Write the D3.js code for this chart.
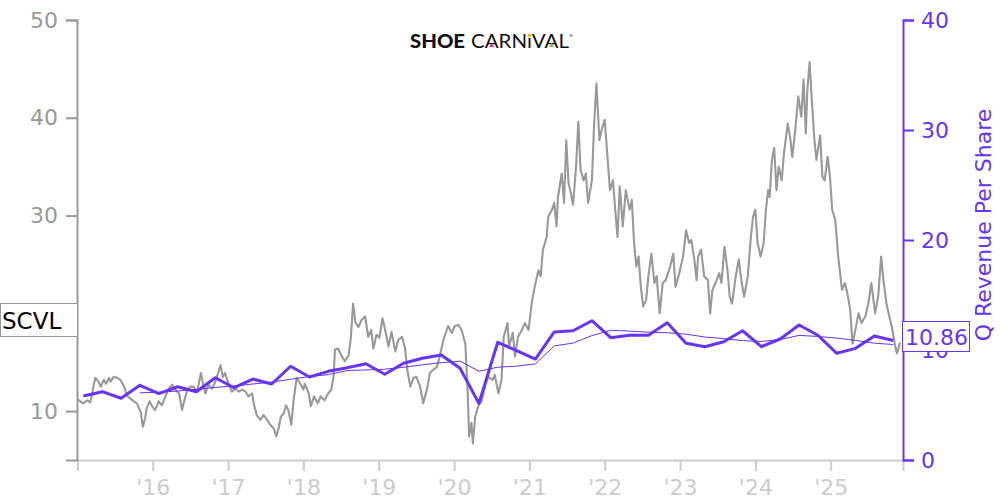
<!DOCTYPE html>
<html><head><meta charset="utf-8">
<script src="https://cdn.jsdelivr.net/npm/d3@7"></script>
<style>body{margin:0;background:#fff} svg{display:block;font-family:"DejaVu Sans",sans-serif}</style>
</head><body><svg id="c" width="1000" height="500"></svg>
<script>
// ---- data ----
const ticker = "SCVL";
const rightTitle = "Q Revenue Per Share";
const yearTicks = [2016,2017,2018,2019,2020,2021,2022,2023,2024,2025];
const leftTicks = [10,20,30,40,50];
const rightTicks = [0,10,20,30,40];

const priceDates = [2015.00,2015.04,2015.08,2015.13,2015.17,2015.19,2015.22,2015.24,2015.28,2015.31,2015.35,2015.38,2015.42,2015.44,2015.48,2015.53,2015.57,2015.62,2015.66,2015.70,2015.75,2015.79,2015.84,2015.87,2015.90,2015.92,2015.96,2015.99,
2016.03,2016.08,2016.12,2016.17,2016.21,2016.26,2016.30,2016.35,2016.39,2016.42,2016.46,2016.50,2016.54,2016.59,2016.64,2016.67,2016.70,2016.74,2016.79,2016.83,2016.88,2016.90,2016.93,2016.96,
2017.01,2017.05,2017.10,2017.14,2017.19,2017.23,2017.27,2017.32,2017.34,2017.38,2017.43,2017.47,2017.52,2017.56,2017.61,2017.64,2017.67,2017.70,2017.74,2017.77,2017.80,2017.84,2017.87,2017.91,2017.96,
2018.00,2018.02,2018.07,2018.10,2018.14,2018.19,2018.23,2018.28,2018.32,2018.37,2018.40,2018.42,2018.46,2018.51,2018.55,2018.60,2018.63,2018.66,2018.69,2018.73,2018.77,2018.82,2018.86,2018.90,2018.93,2018.97,
2019.01,2019.05,2019.08,2019.13,2019.17,2019.22,2019.26,2019.31,2019.35,2019.38,2019.42,2019.46,2019.50,2019.55,2019.59,2019.64,2019.68,2019.72,2019.77,2019.81,2019.86,2019.92,2019.97,
2020.01,2020.06,2020.10,2020.15,2020.18,2020.20,2020.23,2020.25,2020.28,2020.32,2020.37,2020.41,2020.45,2020.51,2020.54,2020.59,2020.63,2020.66,2020.71,2020.73,2020.78,2020.81,2020.85,2020.90,2020.94,2020.99,
2021.03,2021.07,2021.12,2021.15,2021.18,2021.23,2021.25,2021.30,2021.33,2021.36,2021.38,2021.43,2021.46,2021.49,2021.52,2021.55,2021.58,2021.62,2021.65,2021.68,2021.72,2021.75,2021.78,2021.83,2021.86,2021.89,2021.93,2021.96,
2022.00,2022.03,2022.07,2022.11,2022.14,2022.17,2022.20,2022.24,2022.28,2022.33,2022.36,2022.39,2022.42,2022.45,2022.48,2022.51,2022.55,2022.58,2022.62,2022.66,2022.69,2022.73,2022.77,2022.81,2022.87,2022.91,2022.94,2022.99,
2023.04,2023.08,2023.12,2023.15,2023.19,2023.22,2023.24,2023.28,2023.32,2023.37,2023.40,2023.43,2023.47,2023.52,2023.55,2023.59,2023.63,2023.66,2023.69,2023.74,2023.78,2023.82,2023.85,2023.90,2023.94,2023.97,
2024.00,2024.03,2024.07,2024.11,2024.14,2024.17,2024.19,2024.22,2024.25,2024.28,2024.31,2024.35,2024.38,2024.43,2024.46,2024.49,2024.53,2024.57,2024.61,2024.64,2024.67,2024.69,2024.72,2024.75,2024.78,2024.81,2024.86,2024.89,2024.92,2024.96,2024.99,
2025.02,2025.06,2025.10,2025.15,2025.19,2025.23,2025.26,2025.29,2025.32,2025.37,2025.41,2025.46,2025.50,2025.54,2025.59,2025.63,2025.67,2025.70,2025.74,2025.79,2025.82,2025.85,2025.88,2025.92];

const priceValues = [11.2,11.0,10.8,11.1,10.9,11.5,12.8,13.4,13.0,12.5,13.2,12.8,13.4,13.0,13.5,13.4,13.2,12.5,11.6,11.3,11.0,10.8,9.9,8.4,9.3,10.3,11.0,10.5,
10.1,11.0,10.6,11.5,12.3,12.7,12.2,11.8,10.1,11.1,12.2,12.5,12.5,12.0,13.9,12.7,11.8,12.7,12.3,13.0,14.2,14.7,13.5,13.9,
12.7,12.0,12.3,12.0,12.2,12.0,11.5,11.8,10.8,9.6,9.1,9.6,9.1,8.6,8.2,7.4,8.2,9.4,9.8,10.6,10.1,8.6,11.1,13.4,12.8,
12.2,12.8,11.8,10.5,11.5,10.8,11.5,11.1,11.7,12.2,13.5,16.3,16.4,15.6,15.1,15.7,17.5,21.0,19.1,18.6,19.3,19.7,17.6,18.3,16.4,17.8,
17.5,19.5,18.5,16.6,18.1,16.1,17.3,17.6,16.4,14.2,12.5,13.4,13.5,12.5,10.8,12.2,13.9,14.2,14.5,15.6,17.3,18.7,18.0,
18.7,18.8,18.3,16.9,12.2,7.4,8.8,6.7,9.4,10.5,11.1,12.5,13.5,13.2,13.7,11.8,13.2,17.6,19.0,16.6,18.0,15.6,17.6,18.3,19.0,18.3,
21.0,22.7,24.4,23.8,26.5,27.8,29.9,30.6,31.3,28.9,31.9,34.3,31.3,37.7,33.3,32.3,31.1,35.0,39.6,34.7,33.6,34.3,31.3,33.6,39.4,43.5,37.7,38.8,
39.8,36.7,32.6,33.6,30.6,27.8,33.0,28.9,32.6,30.6,31.6,27.2,24.8,25.8,22.7,20.7,21.4,23.8,26.1,23.1,23.8,20.0,23.1,23.4,24.8,26.1,22.7,24.1,
25.8,28.5,27.2,27.5,25.5,23.4,25.8,26.5,23.8,23.4,20.0,22.4,23.1,24.1,23.1,26.8,24.4,21.7,21.0,23.8,25.5,23.1,21.7,23.8,27.8,29.9,
30.6,27.2,25.8,27.2,30.6,32.6,31.9,35.7,36.9,32.6,35.0,33.6,36.4,39.4,38.1,36.0,38.8,42.2,40.1,43.9,38.4,42.8,45.7,41.8,38.1,35.7,38.2,34.0,33.6,36.0,34.0,
30.6,29.6,25.8,22.4,23.1,21.7,20.3,16.9,18.0,20.0,19.0,19.7,21.0,23.1,20.0,21.7,25.8,23.4,21.0,19.3,18.3,16.9,15.9,17.0];

// quarter-end dates (decimal years)
const revDates = [2015.08,2015.33,2015.58,2015.83,2016.08,2016.33,2016.58,2016.83,2017.08,2017.33,2017.58,2017.83,
2018.08,2018.33,2018.58,2018.83,2019.08,2019.33,2019.58,2019.83,2020.08,2020.33,2020.58,2020.83,
2021.08,2021.33,2021.58,2021.83,2022.08,2022.33,2022.58,2022.83,2023.08,2023.33,2023.58,2023.83,
2024.08,2024.33,2024.58,2024.83,2025.08,2025.33,2025.58,2025.83];
const revValues = [5.82,6.21,5.61,6.79,6.03,6.66,6.21,7.48,6.57,7.36,6.91,8.52,7.55,8.06,8.39,8.75,7.79,8.79,9.25,9.55,8.34,5.15,10.7,9.94,9.18,11.64,11.75,12.66,11.12,11.34,11.34,12.48,10.61,10.3,10.75,11.75,10.3,11.0,12.27,11.34,9.7,10.15,11.27,10.86];
// trailing average line (thin), from 4th quarter on
const revAvgValues = [6.11,6.16,6.27,6.42,6.60,6.73,6.91,7.08,7.34,7.59,7.76,8.13,8.19,8.25,8.43,8.65,8.85,8.98,8.07,8.44,8.53,8.74,10.37,10.63,11.31,11.79,11.72,11.62,11.57,11.44,11.18,11.04,10.85,10.78,10.95,11.33,11.23,11.08,10.87,10.62,10.50];
const lastRev = "10.86";

// ---- chart ----
const purple = "#6633ff";
const svg = d3.select("#c");
const x = d3.scaleLinear().domain([2015, 2025.96]).range([77.4, 903]);
const yL = d3.scaleLinear().domain([5, 50]).range([460, 20]);
const yR = d3.scaleLinear().domain([0, 40]).range([460, 20]);

const priceLine = d3.line().x(d => x(d[0])).y(d => yL(d[1]));
const revLine = d3.line().x(d => x(d[0])).y(d => yR(d[1]));

svg.append("path").datum(d3.zip(priceDates, priceValues))
  .attr("fill","none").attr("stroke","#999").attr("stroke-width",2.1)
  .attr("stroke-linejoin","round").attr("d", priceLine);

svg.append("path").datum(d3.zip(revDates.slice(3), revAvgValues))
  .attr("fill","none").attr("stroke",purple).attr("stroke-width",1)
  .attr("d", revLine);

svg.append("path").datum(d3.zip(revDates, revValues))
  .attr("fill","none").attr("stroke",purple).attr("stroke-width",3)
  .attr("stroke-linejoin","round").attr("d", revLine);

// x axis
const gx = svg.append("g").attr("transform","translate(0,460)")
  .call(d3.axisBottom(x).tickValues(yearTicks).tickFormat(d => "'" + String(d).slice(2))
    .tickSize(11).tickSizeOuter(11).tickPadding(8));
gx.attr("font-family","DejaVu Sans").attr("font-size",22);
gx.selectAll("path,line").attr("stroke","#ccc").attr("stroke-width",2);
gx.selectAll("text").attr("fill","#ccc");

// left axis
const gl = svg.append("g").attr("transform","translate(77,0)")
  .call(d3.axisLeft(yL).tickValues(leftTicks).tickSize(11).tickSizeOuter(11).tickPadding(8));
gl.attr("font-family","DejaVu Sans").attr("font-size",22);
gl.selectAll("path,line").attr("stroke","#999").attr("stroke-width",2);
gl.selectAll("text").attr("fill","#999");

// right axis
const gr = svg.append("g").attr("transform","translate(903,0)")
  .call(d3.axisRight(yR).tickValues(rightTicks).tickSize(11).tickSizeOuter(11).tickPadding(7));
gr.attr("font-family","DejaVu Sans").attr("font-size",22);
gr.selectAll("path,line").attr("stroke",purple).attr("stroke-width",2);
gr.selectAll("text").attr("fill",purple);

// right title
svg.append("text").attr("transform","translate(991,225) rotate(-90)")
  .attr("text-anchor","middle").attr("font-size",22).attr("fill",purple)
  .text(rightTitle);

// ticker box
svg.append("rect").attr("x",0.5).attr("y",303.5).attr("width",77).attr("height",33)
  .attr("fill","#fff").attr("stroke","#999").attr("stroke-width",1);
svg.append("text").attr("x",2).attr("y",328.5).attr("font-size",23).attr("fill","#000").text(ticker);

// last value box
svg.append("rect").attr("x",902.5).attr("y",321.5).attr("width",67).attr("height",30)
  .attr("fill","#fff").attr("stroke",purple).attr("stroke-width",1);
svg.append("text").attr("x",905).attr("y",344.5).attr("font-size",22).attr("fill",purple).text(lastRev);

// logo
const logo = svg.append("g");
logo.append("text").attr("x",410).attr("y",48).attr("font-family","Lato").attr("font-weight",900)
  .attr("font-size",19).attr("textLength",55).attr("lengthAdjust","spacingAndGlyphs").attr("fill","#111").text("SHOE");
const carn = logo.append("text").attr("x",471).attr("y",48).attr("font-family","Lato").attr("font-weight",400)
  .attr("font-size",19).attr("textLength",98).attr("lengthAdjust","spacingAndGlyphs").attr("fill","#111").text("CARNıVAL");
const cn = carn.node();
function charBox(i){ return cn.getExtentOfChar(i); }
let b = charBox(1);
logo.append("path").attr("d", `M${b.x+b.width/2-2.5},${47}L${b.x+b.width/2+2.5},${47}L${b.x+b.width/2},${43}Z`).attr("fill","#e8336b");
b = charBox(4);
logo.append("circle").attr("cx", b.x+b.width/2).attr("cy",35.5).attr("r",1.8).attr("fill","#f2b600");
b = charBox(6);
logo.append("path").attr("d", `M${b.x+b.width/2-2.5},${47}L${b.x+b.width/2+2.5},${47}L${b.x+b.width/2},${43}Z`).attr("fill","#7cc242");
logo.append("text").attr("x",569).attr("y",37).attr("font-size",4).attr("fill","#111").text("®");
</script></body></html>
